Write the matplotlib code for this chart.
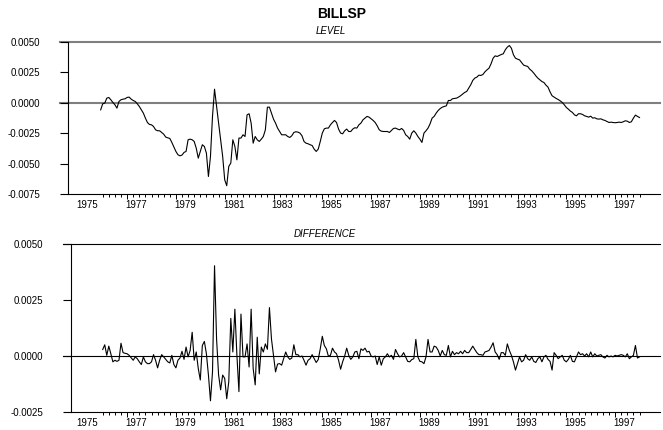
import numpy as np
import matplotlib
matplotlib.use("Agg")
import matplotlib.pyplot as plt
import matplotlib.transforms as mtransforms

plt.rcParams['font.family'] = ['Liberation Sans', 'DejaVu Sans']

# monthly observations, first one is 1975:12, last one 1998:01
start_year = 1975
start_month = 12

# BILLSP level, in units of 1e-4
level_e4 = [
  -5.8, -0.8, -0.3, 3.8, 4.4, 2.5, 0.3, -1.6, -4.4, 1.1,
  2.5, 3.0, 3.3, 4.4, 4.7, 3.0, 1.9, 1.1, -0.8, -3.0,
  -5.8, -8.5, -12.6, -16.2, -17.8, -18.1, -19.5, -22.2, -23.0, -23.0,
  -24.4, -25.8, -28.2, -28.8, -29.3, -32.6, -36.4, -40.0, -42.7, -43.6,
  -43.0, -40.8, -40.0, -30.4, -29.9, -30.4, -31.8, -37.3, -45.5, -40.0,
  -34.5, -35.9, -41.4, -60.6, -44.1, -11.2, 11.2, -3.0, -16.7, -30.4,
  -44.1, -63.3, -68.2, -52.3, -49.6, -30.4, -35.9, -46.9, -29.0, -29.0,
  -26.3, -27.7, -9.9, -9.0, -16.7, -33.2, -27.7, -30.4, -31.8, -29.9,
  -27.7, -22.2, -3.6, -3.6, -8.5, -13.4, -16.7, -20.8, -23.6, -26.3,
  -26.3, -26.3, -27.7, -28.5, -27.1, -24.4, -23.8, -24.1, -24.9, -27.1,
  -31.8, -33.2, -33.7, -34.5, -35.1, -38.1, -40.0, -38.1, -31.8, -24.9,
  -21.4, -20.8, -20.8, -18.1, -16.2, -14.5, -16.2, -21.6, -24.9, -25.5,
  -23.0, -21.6, -23.6, -23.6, -21.6, -20.5, -20.8, -18.1, -16.7, -14.0,
  -12.6, -11.2, -11.8, -13.2, -14.5, -16.2, -18.9, -22.2, -23.3, -23.6,
  -23.6, -23.6, -24.4, -22.7, -21.1, -20.8, -21.6, -22.2, -21.1, -22.7,
  -26.3, -27.7, -29.9, -24.9, -23.0, -24.9, -27.7, -29.9, -32.6, -24.9,
  -23.0, -20.8, -17.3, -12.6, -11.2, -8.5, -6.3, -4.7, -3.6, -3.0,
  -2.5, 1.9, 1.9, 3.3, 3.6, 3.8, 4.7, 5.8, 7.1, 8.5,
  9.3, 12.1, 14.8, 18.4, 20.3, 21.1, 22.7, 22.5, 23.3, 25.5,
  27.1, 28.5, 32.1, 36.7, 38.6, 38.1, 38.9, 39.7, 40.3, 43.6,
  45.8, 47.1, 44.9, 39.5, 36.7, 35.9, 35.3, 33.2, 31.0, 30.4,
  29.9, 27.7, 26.3, 24.4, 22.2, 20.3, 18.9, 17.5, 16.7, 14.5,
  12.9, 9.0, 5.8, 4.7, 3.6, 2.7, 1.6, 0.3, -1.6, -3.8,
  -5.2, -6.8, -7.9, -9.9, -10.7, -9.0, -9.0, -9.6, -10.7, -11.2,
  -11.8, -11.0, -12.6, -12.3, -13.2, -13.4, -13.2, -14.0, -14.5, -15.3,
  -16.2, -15.9, -16.2, -16.4, -16.2, -15.9, -16.2, -15.6, -14.8, -15.1,
  -16.2, -15.6, -12.6, -10.1, -11.2, -12.1,
]

# first difference, in units of 1e-4 (starts one month after the level)
diff_e4 = [
  2.9, 5.0, 0.3, 4.4, 1.0, -2.6, -1.9, -2.4, -1.9, 5.7,
  1.5, 1.2, 1.0, 0.3, -0.8, -1.9, -0.4, -1.2, -2.6, -3.8,
  -0.4, -2.6, -3.4, -3.4, -2.6, 0.6, -1.9, -5.3, -1.9, 0.6,
  -0.4, -1.5, -2.6, -3.1, 0.3, -3.8, -5.3, -1.9, -0.9, 2.1,
  -1.5, 4.0, -0.4, 2.5, 10.6, -1.9, 1.8, -5.6, -10.7, 4.7,
  6.5, 1.0, -8.5, -20.0, -7.1, 40.3, 7.6, -8.5, -15.1, -8.5,
  -10.0, -19.1, -11.5, 16.8, 1.8, 20.9, 0.3, -15.9, 18.7, -0.4,
  -0.4, 5.4, -4.9, 20.9, -5.6, -12.9, 8.4, -8.0, 4.0, 1.8,
  5.4, 3.0, 21.6, 7.6, 0.3, -7.1, -3.6, -3.4, -4.1, -1.2,
  1.8, -0.4, -1.5, -0.9, 5.0, 0.6, 0.6, -0.4, 0.0, -1.9,
  -4.1, -1.9, -1.2, 0.6, -1.2, -2.9, -1.6, 3.2, 8.8, 4.7,
  3.2, -0.1, 0.3, 3.5, 1.8, 1.0, -1.9, -5.9, -2.6, 0.0,
  3.5, 0.3, -1.5, -0.4, 1.8, 2.1, -1.2, 3.2, 2.5, 3.5,
  1.8, 2.1, 0.0, -0.4, 0.0, -3.8, -0.4, -4.1, -1.2, -0.4,
  1.0, -0.4, 0.3, -1.5, 2.9, 1.0, -0.4, 0.0, 1.5, -0.4,
  -2.4, -2.6, -1.6, -1.2, 7.4, -0.4, -2.4, -2.6, -3.4, -0.4,
  7.4, 1.8, 1.8, 4.4, 4.0, 2.5, 0.0, 2.5, 0.6, 0.3,
  4.7, -0.4, 2.1, 0.6, 1.5, 1.0, 2.1, 1.0, 2.5, 1.5,
  1.5, 2.9, 4.4, 2.9, 1.5, 0.6, 0.6, 0.3, 1.8, 2.1,
  2.5, 4.0, 5.9, 1.8, 0.6, -1.5, 1.5, 1.5, 0.3, 5.4,
  2.5, 0.3, -2.6, -6.3, -3.4, -0.4, -2.6, -1.9, 0.6, -1.2,
  -1.9, -0.4, -2.4, -2.9, -1.2, -0.4, -2.6, -0.4, 0.3, -1.5,
  -2.4, -6.3, 1.5, 0.3, -1.2, -0.4, 0.3, -1.9, -2.6, -1.5,
  0.3, -2.4, -2.6, -0.4, 1.8, 0.6, 1.0, 0.0, 1.0, -0.4,
  1.8, -0.4, 1.0, 0.0, 0.3, 0.6, -0.4, -0.9, 0.3, -0.4,
  0.0, -0.4, 0.3, 0.0, 0.3, 0.6, 0.3, -0.4, 1.0, -1.2,
  -0.4, 0.3, 4.7, -0.9, -0.4,
]

year_labels = [str(y) for y in range(1975, 1998, 2)]
level_yticks = [0.005, 0.0025, 0.0, -0.0025, -0.005, -0.0075]
diff_yticks = [0.005, 0.0025, 0.0, -0.0025]

W, H = 663, 430
PX_PER_YEAR = 24.4


def px_to_year(px):
  # 1998.0 sits at pixel 639.5
  return 1998.0 - (639.5 - px) / PX_PER_YEAR


def rect(left, top, right, bottom):
  return [left / W, 1 - bottom / H, (right - left) / W, (bottom - top) / H]


def style_panel(ax, left_px, ylim, yticks, top_color, top_lw, zero_color, zero_lw, t_first, t_last):
  ax.set_xlim(px_to_year(left_px), px_to_year(660))
  ax.set_ylim(*ylim)
  for side in ['top', 'right']:
    ax.spines[side].set_visible(False)
  for side in ['left', 'bottom']:
    ax.spines[side].set_linewidth(0.8)
    ax.spines[side].set_color('black')

  width_px = 660 - left_px
  ax.axhline(ylim[1], color=top_color, lw=top_lw, xmin=-7.5 / width_px, xmax=1, clip_on=False, zorder=1)
  ax.axhline(0, color=zero_color, lw=zero_lw, xmin=-7.5 / width_px, xmax=1, clip_on=False, zorder=1)

  ax.set_yticks(yticks)
  ax.set_yticklabels(['%.4f' % v for v in yticks])
  ax.tick_params(axis='y', direction='out', length=5.5, width=0.8, labelsize=7, pad=14)

  majors = [y for y in range(1977, 1999, 2)]
  minors = [q for q in np.arange(1976.0, 1998.01, 0.25) if t_first - 0.01 <= q <= t_last + 0.01]
  ax.set_xticks(majors)
  ax.set_xticks(minors, minor=True)
  ax.tick_params(axis='x', which='major', direction='out', length=3.8, width=0.7, labelbottom=False)
  ax.tick_params(axis='x', which='minor', direction='out', length=2.4, width=0.7)

  height_px = ax.get_position().height * H
  trans = mtransforms.blended_transform_factory(ax.transData, ax.transAxes)
  for lab in year_labels:
    ax.text(int(lab) + 0.37, -11.5 / height_px, lab, transform=trans,
            ha='center', va='center', fontsize=7)


level = np.array(level_e4) * 1e-4
diff = np.array(diff_e4) * 1e-4
t = start_year + (start_month - 1) / 12.0 + np.arange(len(level)) / 12.0

fig = plt.figure(figsize=(W / 100, H / 100), dpi=100)

ax1 = fig.add_axes(rect(67.5, 42, 660, 194))
style_panel(ax1, 67.5, (-0.0075, 0.005), level_yticks, '#7f7f7f', 1.5, '#7f7f7f', 1.5, t[0], t[-1])
ax1.plot(t, level, color='black', lw=0.8, zorder=3)

ax2 = fig.add_axes(rect(70.5, 244, 660, 412))
style_panel(ax2, 70.5, (-0.0025, 0.005), diff_yticks, 'black', 0.8, 'black', 0.8, t[0], t[-1])
ax2.plot(t[1:], diff, color='black', lw=0.8, zorder=3)

fig.text(342 / W, 1 - 14 / H, 'BILLSP', ha='center', va='center', fontsize=10, fontweight='bold')
fig.text(331 / W, 1 - 31 / H, 'LEVEL', ha='center', va='center', fontsize=7, style='italic')
fig.text(325 / W, 1 - 234 / H, 'DIFFERENCE', ha='center', va='center', fontsize=7, style='italic')

fig.savefig('out.png', dpi=100)
